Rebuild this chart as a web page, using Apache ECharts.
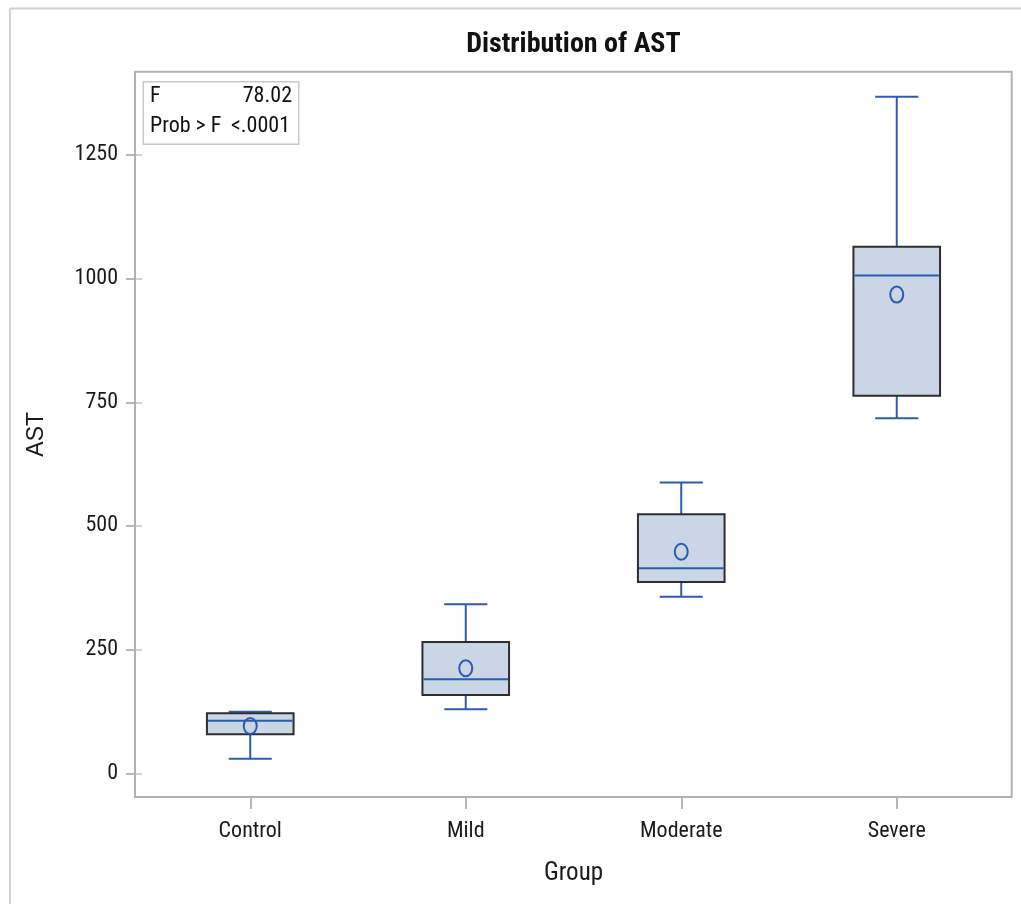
<!DOCTYPE html>
<html>
<head>
<meta charset="utf-8">
<style>
  html, body { margin: 0; padding: 0; background: #ffffff; }
  #chart { width: 1021px; height: 904px; }
</style>
<script src="https://cdn.jsdelivr.net/npm/echarts@6/dist/echarts.min.js"></script>
</head>
<body>
<div id="chart"></div>
<script>
// ---- data ----
var categories  = ['Control', 'Mild', 'Moderate', 'Severe'];
var whiskerLow  = [29.5, 129.4, 356.8, 717.9];
var q1          = [78.8, 158.3, 386.7, 763.4];
var median      = [106.3, 190.0, 414.6, 1006.6];
var q3          = [121.3, 265.4, 523.6, 1064.4];
var whiskerHigh = [124.5, 341.7, 587.9, 1367.7];
var mean        = [95.6, 212.3, 448.0, 967.8];
var yTicks      = [0, 250, 500, 750, 1000, 1250];
var statLabels  = ['F', 'Prob > F'];
var statValues  = ['78.02', '<.0001'];
var titleText   = 'Distribution of AST';

var NARROW = "'Roboto Condensed', 'DejaVu Sans Condensed', 'Liberation Sans', sans-serif";
var BLUE = '#2A5CB0';
var FILL = '#CAD5E5';

var seriesData = categories.map(function (c, i) {
  return [i, whiskerLow[i], q1[i], median[i], q3[i], whiskerHigh[i], mean[i]];
});

function renderItem(params, api) {
  var x = api.value(0);
  var pLow = api.coord([x, api.value(1)]);
  var pQ1 = api.coord([x, api.value(2)]);
  var pMed = api.coord([x, api.value(3)]);
  var pQ3 = api.coord([x, api.value(4)]);
  var pHigh = api.coord([x, api.value(5)]);
  var pMean = api.coord([x, api.value(6)]);
  var band = api.size([1, 0])[0];
  var boxW = band * 0.402;
  var capW = band * 0.2;
  var cx = pMed[0];
  var lineStyle = { stroke: BLUE, lineWidth: 2, fill: null };
  return {
    type: 'group',
    children: [
      { type: 'line', shape: { x1: cx, y1: pQ3[1], x2: cx, y2: pHigh[1] }, style: lineStyle },
      { type: 'line', shape: { x1: cx, y1: pQ1[1], x2: cx, y2: pLow[1] }, style: lineStyle },
      { type: 'line', shape: { x1: cx - capW / 2, y1: pHigh[1], x2: cx + capW / 2, y2: pHigh[1] }, style: lineStyle },
      { type: 'line', shape: { x1: cx - capW / 2, y1: pLow[1], x2: cx + capW / 2, y2: pLow[1] }, style: lineStyle },
      { type: 'rect', shape: { x: cx - boxW / 2, y: pQ3[1], width: boxW, height: pQ1[1] - pQ3[1] },
        style: { fill: FILL, stroke: '#2E2E2E', lineWidth: 2 } },
      { type: 'line', shape: { x1: cx - boxW / 2 + 1, y1: pMed[1], x2: cx + boxW / 2 - 1, y2: pMed[1] }, style: lineStyle },
      { type: 'ellipse', shape: { cx: pMean[0], cy: pMean[1], rx: 6.5, ry: 8 },
        style: { fill: null, stroke: BLUE, lineWidth: 2 } }
    ]
  };
}

var chart = echarts.init(document.getElementById('chart'), null, { renderer: 'canvas' });

var yMin = -47.9, yMax = 1418.4;

var option = {
  backgroundColor: '#ffffff',
  animation: false,
  grid: { left: 142.5, right: 16.5, top: 71.7, bottom: 107 },
  xAxis: {
    type: 'category',
    data: categories,
    name: 'Group',
    nameLocation: 'middle',
    nameGap: 64,
    nameTextStyle: { fontFamily: NARROW, fontSize: 25, color: '#1A1A1A' },
    axisLine: { show: false, onZero: false },
    axisTick: { show: true, alignWithLabel: true, length: 12, lineStyle: { color: '#9DA1A5', width: 1.5 } },
    axisLabel: { margin: 23, fontFamily: NARROW, fontSize: 22, color: '#1A1A1A' },
    splitLine: { show: false }
  },
  yAxis: [
    {
      type: 'value',
      min: yMin,
      max: yMax,
      offset: 7.5,
      name: 'AST',
      nameLocation: 'middle',
      nameGap: 87,
      nameRotate: 90,
      nameTextStyle: { fontFamily: "'Liberation Sans', Arial, sans-serif", fontSize: 23, color: '#1A1A1A' },
      axisLine: { show: false },
      axisTick: { show: true, length: 9, lineStyle: { color: '#9DA1A5', width: 1.5 }, customValues: yTicks },
      axisLabel: { margin: 17, fontFamily: NARROW, fontSize: 22, color: '#1A1A1A', customValues: yTicks,
        formatter: function (v) { return String(v); } },
      splitLine: { show: false }
    },
    {
      type: 'value',
      min: yMin,
      max: yMax,
      offset: 7.5,
      position: 'left',
      axisLine: { show: false },
      axisTick: { show: true, inside: true, length: 7, lineStyle: { color: '#C4C7CA', width: 1.5 }, customValues: yTicks },
      axisLabel: { show: false },
      splitLine: { show: false }
    }
  ],
  graphic: [
    { type: 'line', shape: { x1: 10, y1: 8.5, x2: 1021, y2: 8.5 }, style: { stroke: '#D2D2D2', lineWidth: 2 } },
    { type: 'line', shape: { x1: 10, y1: 8.5, x2: 10, y2: 904 }, style: { stroke: '#D2D2D2', lineWidth: 2 } },
    { type: 'text', x: 573.4, y: 45, z: 12,
      style: { text: titleText, fontFamily: NARROW, fontSize: 28, fontWeight: 'bold', fill: '#111111',
        textAlign: 'center', textVerticalAlign: 'middle' } },
    { type: 'rect', shape: { x: 135, y: 71.7, width: 876.7, height: 725.3 },
      style: { fill: null, stroke: '#AFB3B7', lineWidth: 2 }, z: 10 },
    { type: 'rect', shape: { x: 143.3, y: 81.7, width: 155.4, height: 62.6 },
      style: { fill: '#ffffff', stroke: '#C9C9C9', lineWidth: 1.5 }, z: 11 },
    { type: 'text', x: 150, y: 96, z: 12,
      style: { text: statLabels[0], fontFamily: NARROW, fontSize: 22, fill: '#111111', textAlign: 'left', textVerticalAlign: 'middle' } },
    { type: 'text', x: 292, y: 96, z: 12,
      style: { text: statValues[0], fontFamily: NARROW, fontSize: 22, fill: '#111111', textAlign: 'right', textVerticalAlign: 'middle' } },
    { type: 'text', x: 150, y: 126.5, z: 12,
      style: { text: statLabels[1], fontFamily: NARROW, fontSize: 22, fill: '#111111', textAlign: 'left', textVerticalAlign: 'middle' } },
    { type: 'text', x: 290, y: 126.5, z: 12,
      style: { text: statValues[1], fontFamily: NARROW, fontSize: 22, fill: '#111111', textAlign: 'right', textVerticalAlign: 'middle' } }
  ],
  series: [
    {
      type: 'custom',
      renderItem: renderItem,
      encode: { x: 0, y: [1, 2, 3, 4, 5, 6] },
      data: seriesData,
      z: 5
    }
  ]
};

chart.setOption(option);
</script>
</body>
</html>
